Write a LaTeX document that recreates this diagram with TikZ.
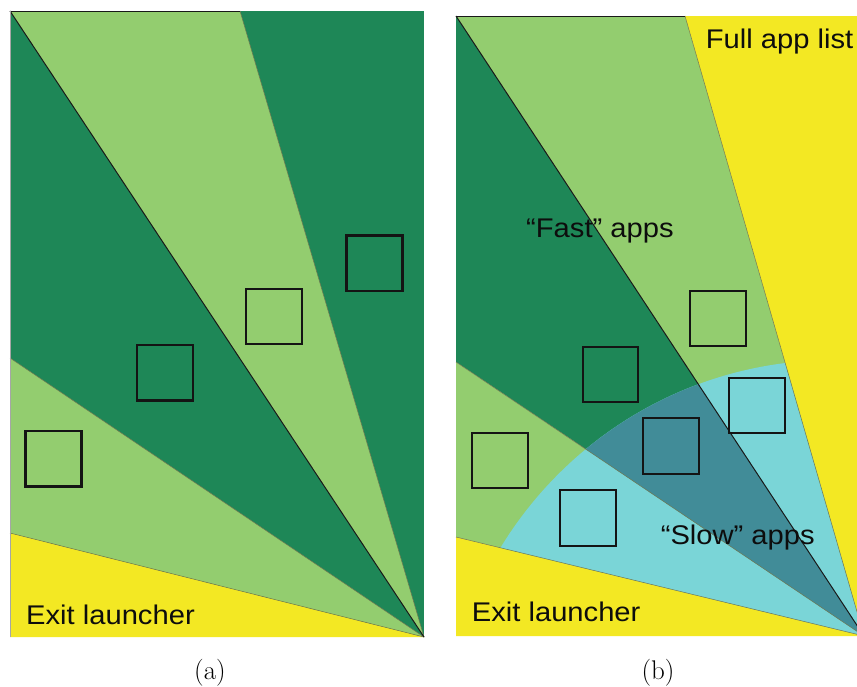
\documentclass[tikz,border=0pt]{standalone}
\usepackage{fontspec}
\usepackage{graphicx}
\newfontfamily\sansfont{Liberation Sans}
\definecolor{lightgr}{HTML}{93CD6F}
\definecolor{darkgr}{HTML}{1E8757}
\definecolor{yel}{HTML}{F3E823}
\definecolor{cyanish}{HTML}{7AD5D7}
\definecolor{tealish}{HTML}{418C98}
\definecolor{seamgray}{HTML}{6E7650}
\newcommand{\wide}[1]{\scalebox{1.08}[1]{#1}}
\begin{document}
\begin{tikzpicture}[x=1pt,y=-1pt,
  seam/.style={draw=seamgray,line width=0.5pt},
  divider/.style={draw=black!90,line width=1pt},
  appbox/.style={draw=black!92,line width=2.2pt},
  lbl/.style={font=\sansfont\fontsize{27}{32}\selectfont,text=black!95,inner sep=0pt,anchor=base west},
  sub/.style={font=\fontsize{27}{32}\selectfont,inner sep=0pt,anchor=base}]
\clip (0,0) rectangle (857,686);
\fill[white] (0,0) rectangle (857,686);

% ---------- left panel ----------
\coordinate (A) at (424,637);
\fill[darkgr] (10,11) rectangle (424,637);
\fill[lightgr] (10,11) -- (240,11) -- (A) -- cycle;
\fill[lightgr] (10,358) -- (10,533) -- (A) -- cycle;
\fill[yel] (10,533) -- (10,637) -- (A) -- cycle;
\draw[seam] (240,11) -- (A);
\draw[seam] (10,358) -- (A);
\draw[seam] (10,533) -- (A);
\draw[divider] (10,11) -- (A);
\draw[divider] (10,11) -- (240,11);
\draw[black!35,line width=0.8pt] (10,11) -- (10,637);

\draw[appbox] (25.5,431) rectangle (81.5,486.5);
\draw[appbox] (137,345) rectangle (193,400.5);
\draw[appbox] (246,289) rectangle (302,344);
\draw[appbox] (346.5,235.5) rectangle (402.5,291);

\node[lbl] (exitA) at (26,624) {\wide{Exit launcher}};
\node[sub] (capA) at (210,679) {(a)};

% ---------- right panel ----------
\coordinate (B) at (864,636);
\fill[darkgr] (456,16) -- (456,362) -- (B) -- cycle;
\fill[lightgr] (456,16) -- (685,16) -- (B) -- cycle;
\fill[lightgr] (456,362) -- (456,537) -- (B) -- cycle;
\fill[yel] (456,537) -- (456,636) -- (B) -- cycle;
\fill[yel] (685,16) -- (864,16) -- (B) -- cycle;

% reach of the slow apps
\begin{scope}
  \clip (B) -- (456,537) -- (456,16) -- (685,16) -- cycle;
  \fill[cyanish] (834,750) circle (390);
  \clip (456,16) -- (456,362) -- (B) -- cycle;
  \fill[tealish] (834,750) circle (390);
\end{scope}

\draw[seam] (685,16) -- (B);
\draw[seam] (456,362) -- (B);
\draw[seam] (456,537) -- (B);
\draw[divider] (456,16) -- (B);
\draw[divider] (456,16) -- (685,16);

\draw[appbox] (472.3,433) rectangle (527.7,488.3);
\draw[appbox] (560,490.3) rectangle (615.7,545.7);
\draw[appbox] (582.7,347.3) rectangle (638.3,402);
\draw[appbox] (643.3,418.3) rectangle (698.7,473.7);
\draw[appbox] (729.3,378.3) rectangle (785,433.3);
\draw[appbox] (690,291) rectangle (746,346);

\node[lbl] (full) at (705.7,48.3) {\wide{Full app list}};
\node[lbl] (fast) at (526,237.3) {\wide{“Fast” apps}};
\node[lbl] (slow) at (660.6,544.3) {\wide{“Slow” apps}};
\node[lbl] (exitB) at (471.7,621.7) {\wide{Exit launcher}};
\node[sub] (capB) at (658,679) {(b)};
\end{tikzpicture}
\end{document}
